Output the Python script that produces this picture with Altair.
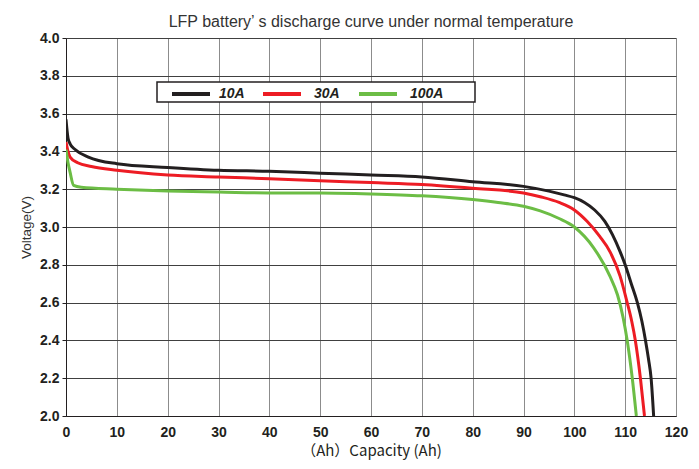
import altair as alt
import pandas as pd

# --- data ---
series_names = ["10A", "30A", "100A"]

cap_10a = [0, 0.4, 0.8, 1.8, 4.4, 10, 20, 30, 40, 50, 60, 70, 80, 90, 95, 98, 100, 102, 104, 106, 107.5, 109, 110, 111.2, 112.4, 113.3, 114, 114.6, 115.1, 115.6]
volt_10a = [3.57, 3.47, 3.44, 3.41, 3.37, 3.335, 3.315, 3.30, 3.295, 3.285, 3.275, 3.265, 3.24, 3.215, 3.19, 3.17, 3.155, 3.13, 3.09, 3.03, 2.96, 2.87, 2.8, 2.7, 2.6, 2.5, 2.4, 2.3, 2.2, 2.0]

cap_30a = [0, 0.4, 0.8, 2.3, 5, 10, 20, 30, 40, 50, 60, 70, 80, 90, 93.3, 97, 100, 102.5, 105, 107, 109, 110.4, 111.3, 112, 113, 113.8]
volt_30a = [3.45, 3.40, 3.37, 3.34, 3.32, 3.30, 3.275, 3.265, 3.255, 3.245, 3.235, 3.225, 3.205, 3.18, 3.16, 3.13, 3.09, 3.03, 2.95, 2.87, 2.74, 2.6, 2.5, 2.4, 2.2, 2.0]

cap_100a = [0, 0.4, 0.8, 1.5, 3, 10, 20, 30, 40, 50, 60, 70, 80, 85, 90, 93.3, 97, 100, 103.8, 107, 108.5, 109.6, 110.4, 111.4, 112.2]
volt_100a = [3.41, 3.34, 3.29, 3.22, 3.21, 3.20, 3.19, 3.185, 3.18, 3.18, 3.175, 3.165, 3.145, 3.13, 3.11, 3.085, 3.045, 3.0, 2.89, 2.74, 2.64, 2.52, 2.4, 2.2, 2.0]

x_ticks = list(range(0, 121, 10))
y_ticks = [2.0, 2.2, 2.4, 2.6, 2.8, 3.0, 3.2, 3.4, 3.6, 3.8, 4.0]

colors = ["#231f20", "#ed1c24", "#6cbd45"]

rows = []
for name, xs, ys in zip(series_names, [cap_10a, cap_30a, cap_100a], [volt_10a, volt_30a, volt_100a]):
    for i, (xv, yv) in enumerate(zip(xs, ys)):
        rows.append({"series": name, "cap": xv, "volt": yv, "order": i})
df = pd.DataFrame(rows)
one = pd.DataFrame({"k": [0]})

lab_font = "Liberation Sans Narrow, Arial Narrow, Liberation Sans, sans-serif"

lines = alt.Chart(df).mark_line(strokeWidth=3, interpolate="monotone", clip=True).encode(
    x=alt.X("cap:Q", scale=alt.Scale(domain=[0, 120], nice=False),
            axis=alt.Axis(values=x_ticks, title="（Ah）Capacity (Ah)", format="d",
                          titleFont="Noto Sans CJK SC", titleFontSize=15, titleFontWeight="normal",
                          titleColor="#231f20", titlePadding=4,
                          labelFont=lab_font, labelFontSize=14, labelFontWeight="bold", labelColor="#231f20",
                          labelPadding=9, ticks=False, domainColor="#231f20",
                          gridColor="#8c8c8c", gridOpacity=1, labelFlush=False)),
    y=alt.Y("volt:Q", scale=alt.Scale(domain=[2.0, 4.0], nice=False),
            axis=alt.Axis(values=y_ticks, title="Voltage(V)", format=".1f",
                          titleFont="Liberation Sans, sans-serif", titleFontSize=13.5, titleFontWeight="normal",
                          titleColor="#333333", titlePadding=6,
                          labelFont=lab_font, labelFontSize=14, labelFontWeight="bold", labelColor="#231f20",
                          labelPadding=3, tickSize=4, tickColor="#231f20", domainColor="#231f20",
                          gridColor="#404040", gridOpacity=1)),
    color=alt.Color("series:N", scale=alt.Scale(domain=series_names, range=colors), legend=None),
    order="order:Q",
)

# --- hand-drawn legend box (pixel positions inside the plot area) ---
legend_layers = [
    alt.Chart(one).mark_rect(fill="white", stroke="#231f20", strokeWidth=1.5).encode(
        x=alt.value(91), x2=alt.value(409), y=alt.value(44), y2=alt.value(64))
]
swatch_x = [106, 197, 293]
label_x = [153, 248, 344]
for name, col, sx, lx in zip(series_names, colors, swatch_x, label_x):
    legend_layers.append(
        alt.Chart(one).mark_rule(color=col, strokeWidth=4).encode(
            x=alt.value(sx), x2=alt.value(sx + 38), y=alt.value(56)))
    legend_layers.append(
        alt.Chart(one).mark_text(text=name, align="left", baseline="alphabetic",
                                 font="Liberation Sans, sans-serif", fontSize=14,
                                 fontStyle="italic", fontWeight="bold", color="#231f20").encode(
            x=alt.value(lx), y=alt.value(60)))

chart = alt.layer(lines, *legend_layers).properties(
    width=610, height=378,
    padding={"left": 66, "top": 38, "right": 23, "bottom": 53},
    autosize=alt.AutoSizeParams(type="none"),
    title=alt.TitleParams(text="LFP battery’ s discharge curve under normal temperature",
                          font="Liberation Sans, sans-serif", fontSize=16, fontWeight="normal",
                          color="#333333", anchor="middle", offset=1),
).configure_view(stroke="#231f20", strokeWidth=1).configure(background="white")

chart.save("out.html", embed_options={"renderer": "svg", "actions": False})
